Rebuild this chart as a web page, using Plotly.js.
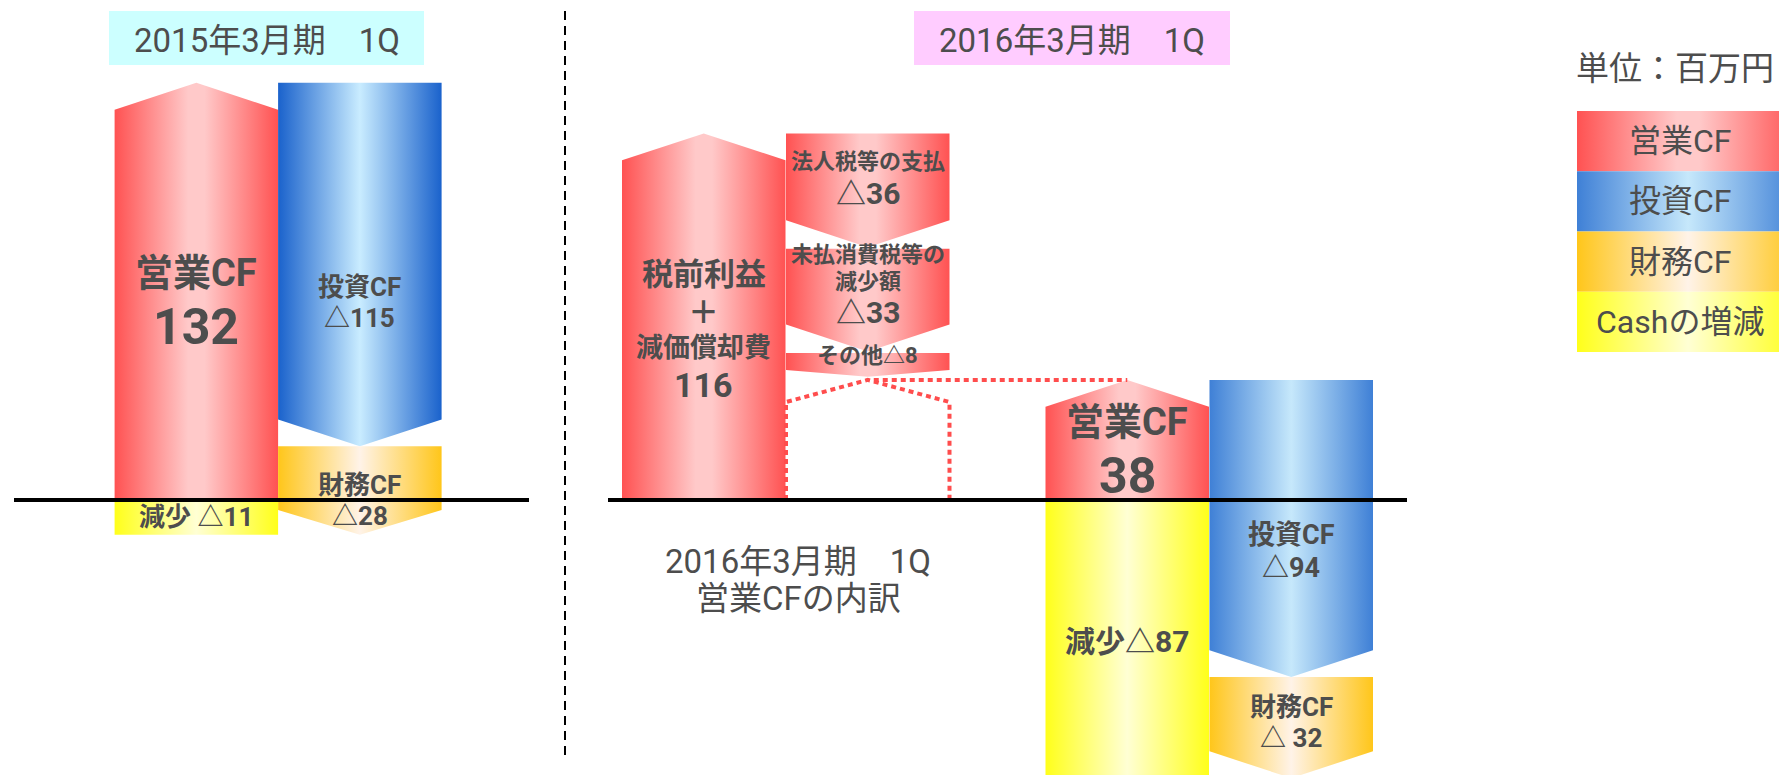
<!DOCTYPE html>
<html><head><meta charset="utf-8">
<script src="https://cdn.plot.ly/plotly-3.0.1.min.js"></script>
<style>html,body{margin:0;padding:0;background:#fff;overflow:hidden}#chart{width:1779px;height:775px}</style>
</head><body><div id="chart"></div>
<script>
// ---------------- data ----------------
const period2015 = '2015年3月期　1Q';
const period2016 = '2016年3月期　1Q';
const cfCategories = ['営業CF', '投資CF', '財務CF', 'Cashの増減'];
const cf2015 = [132, -115, -28, -11];
const cf2016 = [38, -94, -32, -87];
const breakdownCategories = ['税前利益＋減価償却費', '法人税等の支払', '未払消費税等の減少額', 'その他'];
const breakdownValues = [116, -36, -33, -8];
const unitLabel = '単位：百万円';
const breakdownCaption = ['2016年3月期　1Q', '営業CFの内訳'];
const labels2015 = [['営業CF', '{v}'], ['投資CF', '{v}'], ['財務CF', '{v}'], ['減少 {v}']];
const labels2016 = [['営業CF', '{v}'], ['投資CF', '{v}'], ['財務CF', '△ {a}'], ['減少{v}']];
const breakdownLabels = [['税前利益', '＋', '減価償却費', '{v}'], ['法人税等の支払', '{v}'], ['未払消費税等の', '減少額', '{v}'], ['その他{v}']];

// ---------------- layout / style constants ----------------
const W = 1779, H = 775;
const COL = 163.5;            // column width (x units)
const Y_MIN = -87, Y_MAX = 158.2;
const HEAD = 8.5;             // max arrow head height (y units)
const GAP = 0.5;
const PITCH = 1.22;
const LEFT2015 = [114.6, 278.1];
const LEFT2016 = [1045.5, 1209.5];
const LEFTBD = [622, 786];
const FONT = 'Roboto, "Noto Sans CJK JP", sans-serif';
const TXT = '#4d4d4d';
const GRAD = {
  red: [[0, '#ff5252'], [0.45, '#ffc9c9'], [0.55, '#ffc9c9'], [1, '#ff5252']],
  blueDark: [[0, '#1a62cc'], [0.5, '#c9ecff'], [1, '#1a62cc']],
  blue: [[0, '#3f80d6'], [0.5, '#c6e8fb'], [1, '#3f80d6']],
  orange: [[0, '#ffc61a'], [0.5, '#fff3e8'], [1, '#ffc61a']],
  yellow: [[0, '#ffff1a'], [0.5, '#ffffd4'], [1, '#ffff1a']]
};
const sizes2015 = [[38, 50], [26, 26], [26, 26], [26]];
const sizes2016 = [[38, 50], [27, 27], [26, 26], [30]];
const sizesBD = [[31, 31, 27, 34], [22, 30], [22, 22, 30], [22]];
const shift2015 = [-12, -38, -10, 0];   // label nudges in px (positive = up)
const shift2016 = [-13, -23, 5, -4];
const shiftBD = [-14, 10, 14, 9];
const TITLE_SIZE = 33, LEGEND_SIZE = 32;

const traces = [];
const annotations = [];
const shapes = [];

function fmt(t, v) {
  return t.replace('{v}', v >= 0 ? String(v) : '△' + Math.abs(v)).replace('{a}', String(Math.abs(v)));
}
function poly(xs, ys, scale, xa, ya) {
  traces.push({
    type: 'scatter', mode: 'lines', x: xs, y: ys, fill: 'toself',
    fillcolor: scale[0][1], fillgradient: {type: 'horizontal', colorscale: scale},
    line: {width: 0}, hoverinfo: 'skip', xaxis: xa || 'x', yaxis: ya || 'y'
  });
}
function arrow(x0, from, to, scale) {
  const x1 = x0 + COL, xc = x0 + COL / 2;
  const h = Math.min(HEAD, 0.28 * Math.abs(to - from));
  const back = to > from ? to - h : to + h;
  poly([x0, x1, x1, xc, x0, x0], [from, from, back, to, back, from], scale);
}
function rect(x0, from, to, scale) {
  const x1 = x0 + COL;
  poly([x0, x1, x1, x0, x0], [from, from, to, to, from], scale);
}
function label(xc, yc, lines, sizes, v, shift) {
  const pitches = sizes.map(s => s * PITCH);
  const total = pitches.reduce((a, b) => a + b, 0);
  let cum = 0;
  lines.forEach((t, i) => {
    const off = total / 2 - (cum + pitches[i] / 2) + (shift || 0);
    cum += pitches[i];
    annotations.push({
      x: xc, y: yc, xref: 'x', yref: 'y', yshift: off, showarrow: false,
      text: fmt(t, v), xanchor: 'center', yanchor: 'middle',
      font: {family: FONT, size: sizes[i], color: TXT, weight: 700}
    });
  });
}
function plainText(x, y, xref, yref, text, size) {
  annotations.push({x: x, y: y, xref: xref, yref: yref, showarrow: false, text: text,
    xanchor: 'center', yanchor: 'middle', font: {family: FONT, size: size, color: TXT}});
}

function cfPanel(values, labels, sizes, shifts, left, blueScale) {
  const [op, inv, fin, cash] = values;
  const scales = [GRAD.red, blueScale, GRAD.orange];
  const cols = [left[0], left[1], left[1]];
  let run = 0;
  [op, inv, fin].forEach((v, i) => {
    const from = i === 0 ? 0 : run;
    const to = i === 0 ? v : run + v;
    arrow(cols[i], from, to, scales[i]);
    label(cols[i] + COL / 2, (from + to) / 2, labels[i], sizes[i], v, shifts[i]);
    run = to;
  });
  rect(left[0], 0, cash, GRAD.yellow);
  label(left[0] + COL / 2, cash / 2, labels[3], sizes[3], cash, shifts[3]);
}

cfPanel(cf2015, labels2015, sizes2015, shift2015, LEFT2015, GRAD.blueDark);
cfPanel(cf2016, labels2016, sizes2016, shift2016, LEFT2016, GRAD.blue);

// breakdown of operating CF
(function () {
  let run = breakdownValues[0];
  arrow(LEFTBD[0], 0, run, GRAD.red);
  label(LEFTBD[0] + COL / 2, run / 2, breakdownLabels[0], sizesBD[0], run, shiftBD[0]);
  for (let i = 1; i < breakdownValues.length; i++) {
    const v = breakdownValues[i];
    const from = i === 1 ? run : run - GAP;
    const to = run + v;
    arrow(LEFTBD[1], from, to, GRAD.red);
    label(LEFTBD[1] + COL / 2, (from + to) / 2, breakdownLabels[i], sizesBD[i], v, shiftBD[i]);
    run = to;
  }
  // dotted outline of resulting operating CF
  const res = cf2016[0];
  const x0 = LEFTBD[1], x1 = x0 + COL, xc = x0 + COL / 2;
  const dot = {color: '#ff4d4d', width: 4, dash: '5px,4px'};
  traces.push({type: 'scatter', mode: 'lines', x: [x0, x0, xc, x1, x1], y: [0, res - 7, res, res - 7, 0],
    line: dot, hoverinfo: 'skip'});
  traces.push({type: 'scatter', mode: 'lines', x: [xc + 6, LEFT2016[0] + COL / 2], y: [res, res],
    line: dot, hoverinfo: 'skip'});
})();

// legend (second axes)
const legendScales = [GRAD.red, GRAD.blue, GRAD.orange, GRAD.yellow];
cfCategories.forEach((c, i) => {
  poly([0, 1.1, 1.1, 0, 0], [i, i, i + 1, i + 1, i], legendScales[i], 'x2', 'y2');
  plainText(0.51, i + 0.5, 'x2', 'y2', c, LEGEND_SIZE);
});

// baselines, divider, title boxes
shapes.push({type: 'line', xref: 'x', yref: 'y', x0: 14, x1: 529, y0: 0, y1: 0, line: {color: '#000', width: 4}, layer: 'above'});
shapes.push({type: 'line', xref: 'x', yref: 'y', x0: 608, x1: 1407, y0: 0, y1: 0, line: {color: '#000', width: 4}, layer: 'above'});
shapes.push({type: 'line', xref: 'x', yref: 'paper', x0: 565, x1: 565, y0: 1 - 755 / H, y1: 1 - 6 / H, line: {color: '#000', width: 2, dash: '9px,6px'}, layer: 'above'});
shapes.push({type: 'rect', xref: 'x', yref: 'paper', x0: 109, x1: 424, y0: 1 - 65 / H, y1: 1 - 11 / H, fillcolor: '#ccffff', line: {width: 0}, layer: 'below'});
shapes.push({type: 'rect', xref: 'x', yref: 'paper', x0: 914, x1: 1230, y0: 1 - 65 / H, y1: 1 - 11 / H, fillcolor: '#ffccff', line: {width: 0}, layer: 'below'});

plainText(266.5, 1 - 40 / H, 'x', 'paper', period2015, TITLE_SIZE);
plainText(1072, 1 - 40 / H, 'x', 'paper', period2016, TITLE_SIZE);
plainText(798, 1 - 561 / H, 'x', 'paper', breakdownCaption[0], TITLE_SIZE);
plainText(798, 1 - 598 / H, 'x', 'paper', breakdownCaption[1], TITLE_SIZE);
plainText(1675 / W, 1 - 68 / H, 'paper', 'paper', unitLabel, TITLE_SIZE);

const ax = {showgrid: false, zeroline: false, showticklabels: false, showline: false, ticks: '', fixedrange: true};
const layout = {
  width: W, height: H, margin: {l: 0, r: 0, t: 0, b: 0, pad: 0},
  paper_bgcolor: '#fff', plot_bgcolor: 'rgba(0,0,0,0)', showlegend: false,
  xaxis: Object.assign({range: [0, W], domain: [0, 1]}, ax),
  yaxis: Object.assign({range: [Y_MIN, Y_MAX], domain: [0, 1]}, ax),
  xaxis2: Object.assign({range: [0, 1], domain: [1577 / W, 1], anchor: 'y2'}, ax),
  yaxis2: Object.assign({range: [4, 0], domain: [1 - 352 / H, 1 - 111 / H], anchor: 'x2'}, ax),
  shapes: shapes, annotations: annotations
};
Plotly.newPlot('chart', traces, layout, {displayModeBar: false, staticPlot: true});
</script>
</body></html>
